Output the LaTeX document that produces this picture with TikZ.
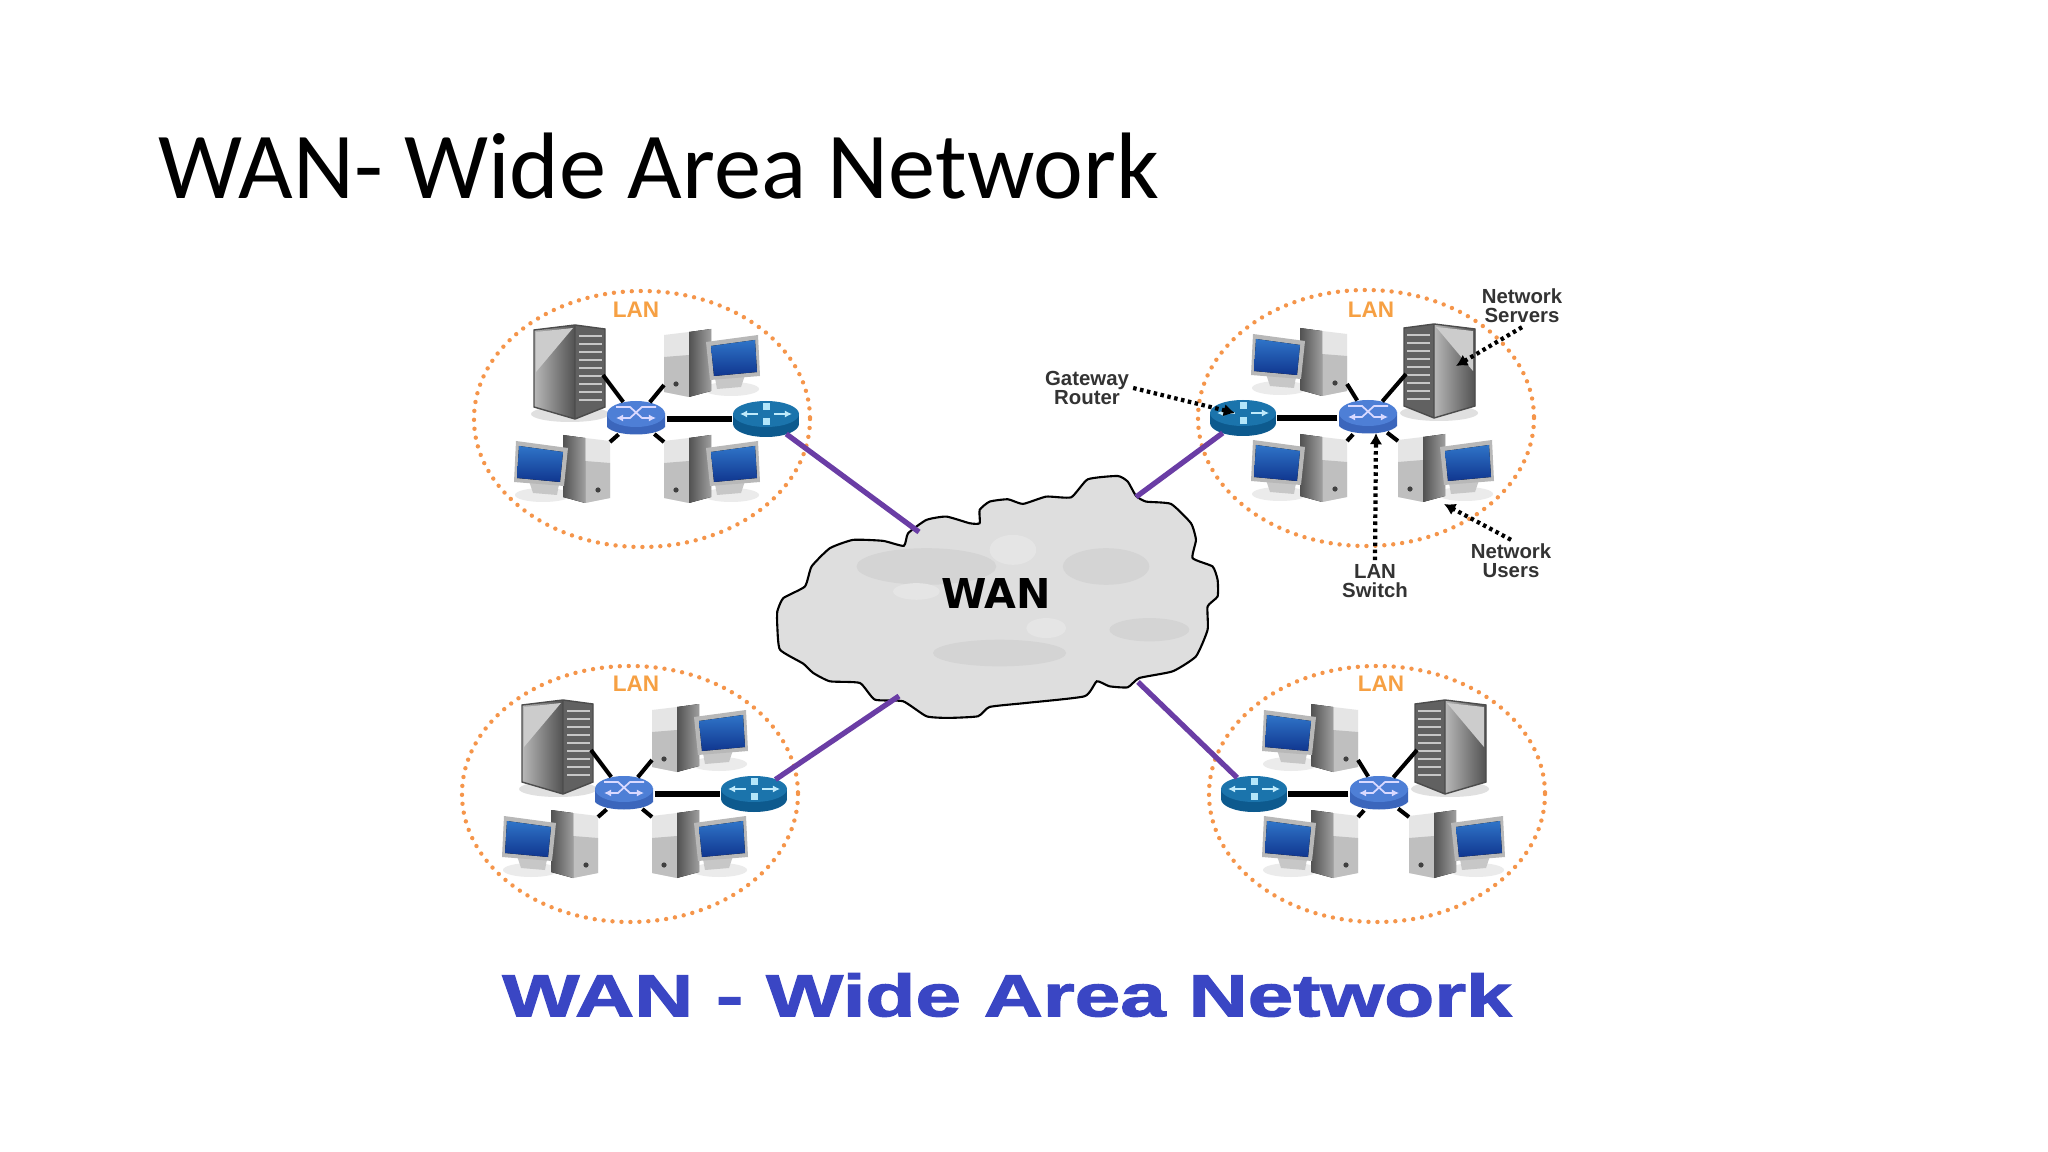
\documentclass[tikz,border=0pt]{standalone}
\usepackage{fontspec}
\setmainfont{Liberation Sans}
\newfontfamily\titlefont{Carlito}
\newfontfamily\wanfont{DejaVu Sans}
\newfontfamily\capfont[BoldFeatures={FakeBold=1.6}]{Liberation Sans}
\usetikzlibrary{arrows.meta,shapes.geometric}

\definecolor{lanorange}{HTML}{F5954A}
\definecolor{wanpurple}{HTML}{6A3DA5}
\definecolor{capblue}{HTML}{3A46C4}
\definecolor{screendark}{HTML}{10368F}
\definecolor{screenlight}{HTML}{2F74C8}
\definecolor{swtop}{HTML}{4E7FD6}
\definecolor{swside}{HTML}{3B66BC}
\definecolor{rttop}{HTML}{1B74AC}
\definecolor{rtside}{HTML}{0D5A8E}

\tikzset{
  lanring/.style={lanorange,line width=1.25pt,line cap=round,dash pattern=on 0pt off 2.55pt},
  lanlink/.style={black,line width=1.15pt},
  uplink/.style={black,line width=1.6pt},
  wanlink/.style={wanpurple,line width=1.5pt},
  callout/.style={black,line width=1.2pt,dash pattern=on 1pt off 1pt,-{Latex[length=3.2pt,width=3.6pt]}},
  smalltext/.style={align=center,inner sep=1pt,text=black!80,font=\fontsize{5.8}{5.4}\selectfont\bfseries},
  lantext/.style={inner sep=0pt,text=lanorange!90!yellow,font=\fontsize{6.4}{7}\selectfont\bfseries},
  server/.pic={
    \fill[black!12] (0,42) ellipse [x radius=39,y radius=8];
    \fill[left color=black!28,right color=black!68] (-36,-42) -- (5,-47) -- (5,47) -- (-36,35) -- cycle;
    \fill[black!20] (-34,-40) -- (3,-44) -- (-34,0) -- cycle;
    \fill[black!62] (5,-47) -- (35,-43) -- (35,35) -- (5,47) -- cycle;
    \foreach \y in {-36,-28,-20,-12,-4,4,12,20,28}
      \draw[black!22,line width=.8pt] (9,\y) -- (32,\y);
    \draw[black!70,line width=.4pt] (-36,-42) -- (5,-47) -- (35,-43) -- (35,35) -- (5,47) -- (-36,35) -- cycle (5,-47) -- (5,47);
    \coordinate (-p) at (33,3);
  },
  computer/.pic={
    \fill[black!8] (20,26) ellipse [x radius=28,y radius=7];
    \fill[black!22] (4,15) -- (34,12) -- (30,24) -- (6,26) -- cycle;
    \fill[black!10] (-47,-28) -- (-22,-31) -- (-22,34) -- (-47,29) -- cycle;
    \fill[black!25] (-47,-6) -- (-22,-8) -- (-22,34) -- (-47,29) -- cycle;
    \fill[left color=black!68,right color=black!38] (-22,-31) -- (0,-34) -- (0,28) -- (-22,34) -- cycle;
    \fill[black!75] (-35,21) circle [radius=2.6];
    \fill[black!28] (-5,-21) -- (47,-28) -- (49,13) -- (-1,17) -- cycle;
    \fill[bottom color=screendark,top color=screenlight] (0,-17) -- (44,-23) -- (46,9) -- (3,13) -- cycle;
    \coordinate (-p) at (-47,22);
    \coordinate (-q) at (-47,-27);
  },
  lanswitch/.pic={
    \fill[swside] (-29,-6) -- (-29,8) .. controls (-20,18) and (20,18) .. (29,8) -- (29,-6) -- cycle;
    \fill[swtop] (0,-5) ellipse [x radius=29,y radius=13];
    \draw[white!85!blue,line width=.5pt,-{Latex[length=2pt,width=2pt]}] (-20,-12) -- (-6,-12) -- (6,-1) -- (20,-1);
    \draw[white!85!blue,line width=.5pt,-{Latex[length=2pt,width=2pt]}] (20,-12) -- (6,-12) -- (-6,-1) -- (-20,-1);
    \node[ellipse,inner sep=0pt,minimum width=.6cm,minimum height=.36cm] (-n) at (0,0) {};
  },
  router/.pic={
    \fill[rtside] (0,5) ellipse [x radius=33,y radius=13];
    \fill[rtside] (-33,-5) rectangle (33,5);
    \fill[rttop] (0,-5) ellipse [x radius=33,y radius=13];
    \draw[white!75!cyan,line width=.6pt,-{Latex[length=2pt,width=2pt]}] (-8,-5) -- (-26,-5);
    \draw[white!75!cyan,line width=.6pt,-{Latex[length=2pt,width=2pt]}] (8,-5) -- (26,-5);
    \fill[white!70!cyan] (-3.5,-16) rectangle (3.5,-9);
    \fill[white!70!cyan] (-3.5,-1) rectangle (3.5,6);
    \node[ellipse,inner sep=0pt,minimum width=.66cm,minimum height=.36cm] (-n) at (0,0) {};
  },
}

% LAN with the router on its right
\newcommand{\lanright}[3]{
  \draw[lanring] (#2,#3) ellipse [x radius=168,y radius=128];
  \pic (srv#1) at (#2-72,#3-47) {server};
  \pic (pca#1) at (#2+69,#3-56) {computer};
  \pic[xscale=-1] (pcb#1) at (#2-79,#3+50) {computer};
  \pic (pcc#1) at (#2+69,#3+50) {computer};
  \pic (sw#1) at (#2-6,#3) {lanswitch};
  \pic (rt#1) at (#2+124,#3) {router};
  \draw[lanlink] (srv#1-p) -- (sw#1-n);
  \draw[lanlink] (pca#1-p) -- (sw#1-n);
  \draw[lanlink] (pcb#1-q) -- (sw#1-n);
  \draw[lanlink] (pcc#1-q) -- (sw#1-n);
  \draw[uplink] (sw#1-n) -- (rt#1-n);
}
% LAN with the router on its left
\newcommand{\lanleft}[3]{
  \draw[lanring] (#2,#3) ellipse [x radius=168,y radius=128];
  \pic[xscale=-1] (srv#1) at (#2+73,#3-47) {server};
  \pic[xscale=-1] (pca#1) at (#2-66,#3-56) {computer};
  \pic[xscale=-1] (pcb#1) at (#2-66,#3+50) {computer};
  \pic (pcc#1) at (#2+79,#3+50) {computer};
  \pic (sw#1) at (#2+2,#3) {lanswitch};
  \pic (rt#1) at (#2-123,#3) {router};
  \draw[lanlink] (srv#1-p) -- (sw#1-n);
  \draw[lanlink] (pca#1-p) -- (sw#1-n);
  \draw[lanlink] (pcb#1-q) -- (sw#1-n);
  \draw[lanlink] (pcc#1-q) -- (sw#1-n);
  \draw[uplink] (sw#1-n) -- (rt#1-n);
}

\begin{document}
\begin{tikzpicture}[x=0.01cm,y=-0.01cm]
    \useasboundingbox (0,0) rectangle (2048,1152);
    \fill[white] (0,0) rectangle (2048,1152);

    \node[anchor=base west,inner sep=0pt,font=\fontsize{26.85}{30}\selectfont\titlefont] (title) at (158,199) {WAN- Wide Area Network};

    % the cloud
    \begin{scope}[shift={(760,460)},x=0.00333cm,y=-0.00333cm]
        \draw[black,line width=.6pt,fill=black!13] plot[smooth cycle,tension=.3] coordinates {
            (52,455) (70,415) (135,380) (155,320) (210,265) (280,240) (370,243) (432,258)
            (445,220) (500,180) (560,170) (630,190) (660,190) (660,150) (690,125) (745,118)
            (790,132) (860,110) (935,112) (985,58) (1075,48) (1105,65) (1130,108) (1160,125)
            (1235,132) (1295,190) (1310,240) (1300,295) (1360,320) (1375,360) (1375,410) (1345,440)
            (1345,510) (1310,590) (1240,635) (1140,655) (1105,683) (1050,680) (1012,665) (975,710)
            (800,730) (690,742) (655,770) (565,775) (500,770) (430,725) (345,720) (300,670)
            (210,665) (160,640) (130,612) (60,570) (52,500)};
        \fill[black!17] (500,320) ellipse [x radius=210,y radius=55];
        \fill[black!17] (1040,320) ellipse [x radius=130,y radius=55];
        \fill[black!17] (1170,510) ellipse [x radius=120,y radius=35];
        \fill[black!17] (720,580) ellipse [x radius=200,y radius=40];
        \fill[black!10] (760,270) ellipse [x radius=70,y radius=45];
        \fill[black!10] (470,395) ellipse [x radius=70,y radius=25];
        \fill[black!10] (860,505) ellipse [x radius=60,y radius=30];
    \end{scope}
    \node[inner sep=0pt,font=\fontsize{11.7}{14}\selectfont\wanfont\bfseries] (wan) at (996,594) {WAN};

    \coordinate (edgeA) at (919,532);
    \coordinate (edgeB) at (1136,497);
    \coordinate (edgeC) at (899,696);
    \coordinate (edgeD) at (1138,682);

    \lanright{1}{642}{419}
    \lanleft{2}{1366}{418}
    \lanright{3}{630}{794}
    \lanleft{4}{1377}{794}

    \draw[wanlink] (rt1-n) -- (edgeA);
    \draw[wanlink] (rt2-n) -- (edgeB);
    \draw[wanlink] (rt3-n) -- (edgeC);
    \draw[wanlink] (rt4-n) -- (edgeD);

    \node[lantext] (lanA) at (636,310) {LAN};
    \node[lantext] (lanB) at (1371,310) {LAN};
    \node[lantext] (lanC) at (636,684) {LAN};
    \node[lantext] (lanD) at (1381,684) {LAN};

    % the callouts of the upper right LAN
    \node[smalltext] (gateway) at (1087,388) {Gateway\\Router};
    \node[smalltext] (servers) at (1522,306) {Network\\Servers};
    \node[smalltext] (lanswitch) at (1375,581) {LAN\\Switch};
    \node[smalltext] (users) at (1511,561) {Network\\Users};

    \coordinate (tipGateway) at (1235,413);
    \coordinate (tipServers) at (1456,366);
    \coordinate (tipSwitch) at (1376,433);
    \coordinate (tipUsers) at (1444,504);

    \draw[callout] (gateway.east) -- (tipGateway);
    \draw[callout] (servers.south) -- (tipServers);
    \draw[callout] (lanswitch.north) -- (tipSwitch);
    \draw[callout] (users.north) -- (tipUsers);

    \node[xscale=1.37,transform shape,inner sep=0pt,text=capblue,font=\fontsize{17}{20}\selectfont\capfont\bfseries] (caption) at (1007,995) {WAN - Wide Area Network};
\end{tikzpicture}
\end{document}
